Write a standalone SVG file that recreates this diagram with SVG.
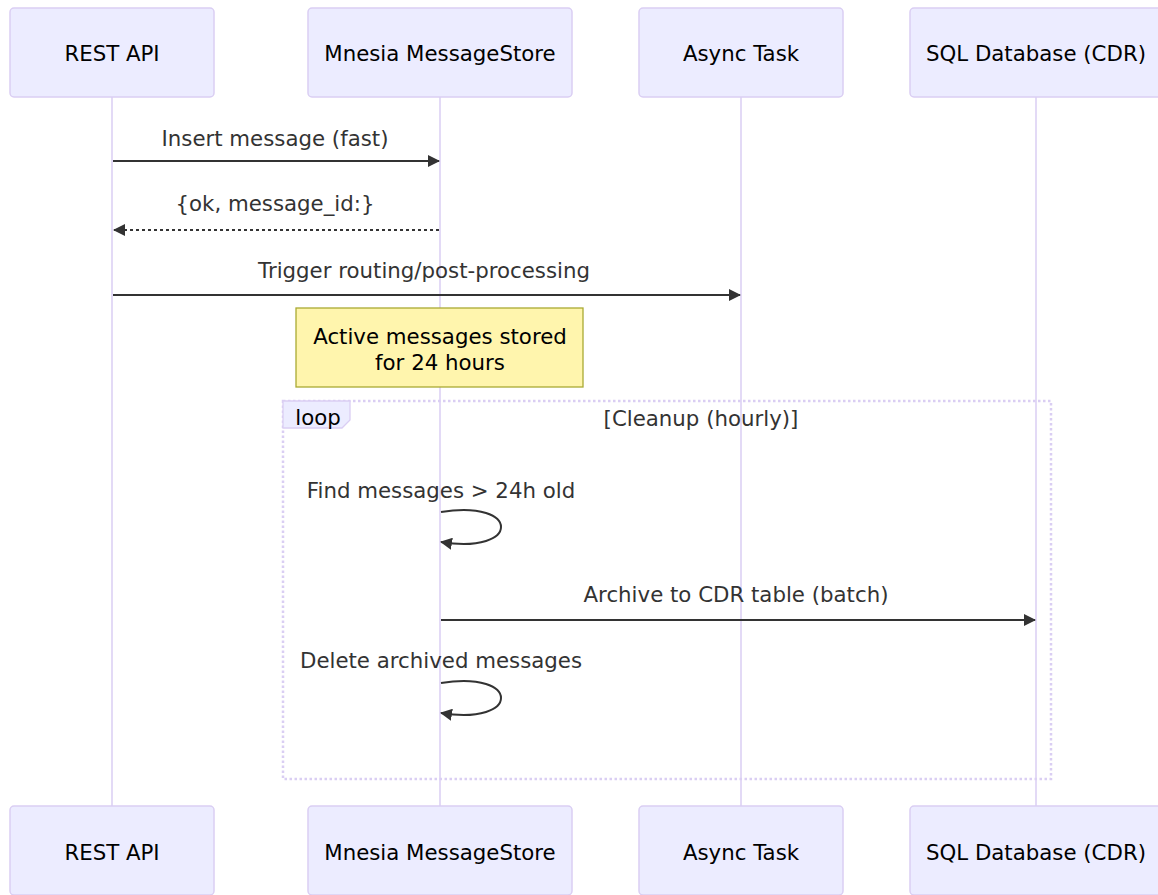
<svg xmlns="http://www.w3.org/2000/svg" width="1158" height="895" viewBox="0 0 1158 895">
<style>
text{font-family:"DejaVu Sans","Verdana",sans-serif;font-size:21.3px;dominant-baseline:central;text-anchor:middle}
.actor{fill:#ECECFF;stroke:hsl(259.6,59.7%,87.9%);stroke-width:1.5}
.atext{fill:#000}
.life{stroke:hsl(259.6,59.7%,87.9%);stroke-width:1.5;fill:none}
.msg{stroke:#333;stroke-width:2;fill:none}
.dash{stroke-dasharray:3 3}
.mtext{fill:#333}
.note{fill:#fff5ad;stroke:#aaaa33;stroke-width:1.3}
.loopbox{fill:none;stroke:hsl(259.6,59.7%,87.9%);stroke-width:2.5;stroke-dasharray:2.5 2.5}
.lbl{fill:#ECECFF;stroke:hsl(259.6,59.7%,87.9%);stroke-width:1.3}
</style>
<defs>
<marker id="arrow" viewBox="0 0 12 12" refX="11" refY="6" markerWidth="12" markerHeight="12" markerUnits="userSpaceOnUse" orient="auto">
<path d="M0,0 L12,6 L0,12 z" fill="#333"/>
</marker>
</defs>
<g id="lifelines">
<line class="life" x1="112" y1="97" x2="112" y2="806"/>
<line class="life" x1="440" y1="97" x2="440" y2="806"/>
<line class="life" x1="741" y1="97" x2="741" y2="806"/>
<line class="life" x1="1036" y1="97" x2="1036" y2="806"/>
</g>
<g id="actor-rest-top"><rect class="actor" x="10" y="8" width="204" height="89" rx="4"/><text class="atext" x="112" y="53">REST API</text></g>
<g id="actor-mnesia-top"><rect class="actor" x="308" y="8" width="264" height="89" rx="4"/><text class="atext" x="440" y="53">Mnesia MessageStore</text></g>
<g id="actor-async-top"><rect class="actor" x="639" y="8" width="204" height="89" rx="4"/><text class="atext" x="741" y="53">Async Task</text></g>
<g id="actor-sql-top"><rect class="actor" x="910" y="8" width="252" height="89" rx="4"/><text class="atext" x="1036" y="53">SQL Database (CDR)</text></g>
<g id="actor-rest-bottom"><rect class="actor" x="10" y="806" width="204" height="89" rx="4"/><text class="atext" x="112" y="852">REST API</text></g>
<g id="actor-mnesia-bottom"><rect class="actor" x="308" y="806" width="264" height="89" rx="4"/><text class="atext" x="440" y="852">Mnesia MessageStore</text></g>
<g id="actor-async-bottom"><rect class="actor" x="639" y="806" width="204" height="89" rx="4"/><text class="atext" x="741" y="852">Async Task</text></g>
<g id="actor-sql-bottom"><rect class="actor" x="910" y="806" width="252" height="89" rx="4"/><text class="atext" x="1036" y="852">SQL Database (CDR)</text></g>
<g id="note">
<rect class="note" x="296" y="308" width="287" height="79"/>
<text fill="#000" x="440" y="336">Active messages stored</text>
<text fill="#000" x="440" y="362">for 24 hours</text>
</g>
<g id="loop">
<rect class="loopbox" x="283" y="401" width="768" height="378"/>
<path class="lbl" d="M283,401 L350,401 L350,420 L342,428 L283,428 Z"/>
<text class="atext" x="318" y="417">loop</text>
<text class="mtext" x="701" y="418">[Cleanup (hourly)]</text>
</g>
<g id="connectors">
<text class="mtext" x="275" y="138">Insert message (fast)</text>
<line class="msg" x1="113" y1="161" x2="439" y2="161" marker-end="url(#arrow)"/>
<text class="mtext" x="275" y="203">{ok, message_id:}</text>
<line class="msg dash" x1="439" y1="230" x2="114" y2="230" marker-end="url(#arrow)"/>
<text class="mtext" x="424" y="270">Trigger routing/post-processing</text>
<line class="msg" x1="113" y1="295" x2="740" y2="295" marker-end="url(#arrow)"/>
<text class="mtext" x="441" y="490">Find messages &gt; 24h old</text>
<path class="msg" d="M441,512 C521,499 521,555 441,542" marker-end="url(#arrow)"/>
<text class="mtext" x="736" y="594">Archive to CDR table (batch)</text>
<line class="msg" x1="441" y1="620" x2="1035" y2="620" marker-end="url(#arrow)"/>
<text class="mtext" x="441" y="660">Delete archived messages</text>
<path class="msg" d="M441,683 C521,670 521,726 441,713" marker-end="url(#arrow)"/>
</g>
</svg>
